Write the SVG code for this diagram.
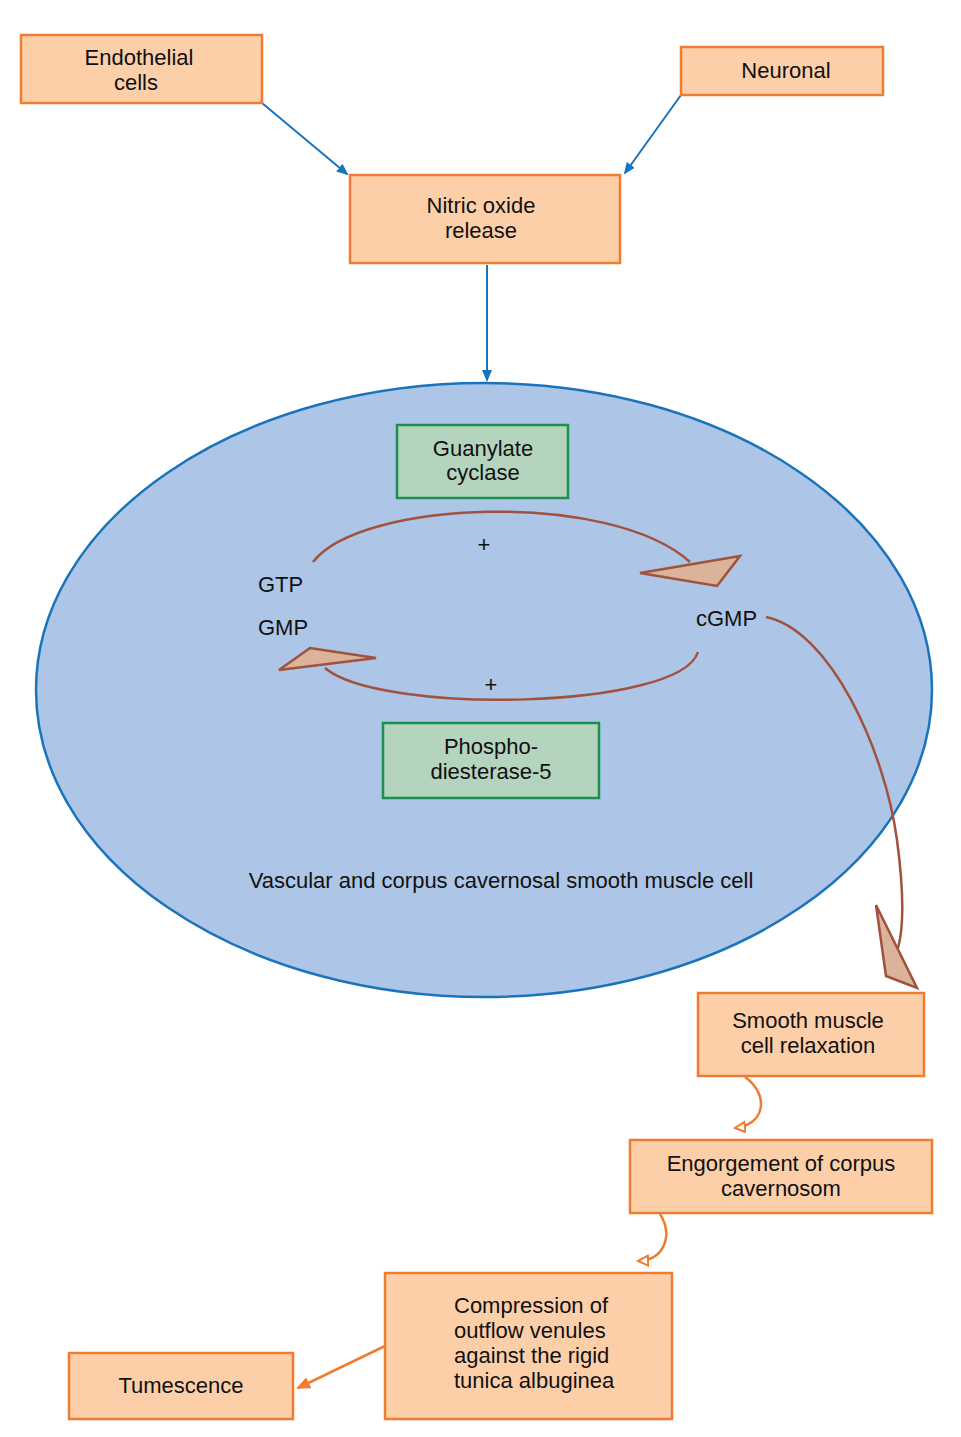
<svg xmlns="http://www.w3.org/2000/svg" width="961" height="1437" viewBox="0 0 961 1437">
<style>
.box{fill:#fccfa9;stroke:#ef7d31;stroke-width:2.5}
.gbox{fill:#b5d4bd;stroke:#1a9050;stroke-width:2.5}
.t{font-family:"Liberation Sans",Arial,sans-serif;font-size:22px;fill:#111;text-anchor:middle}
.tl{font-family:"Liberation Sans",Arial,sans-serif;font-size:22px;fill:#111}
.blue{stroke:#1a74bb;stroke-width:2;fill:none}
.brown{stroke:#a0523d;stroke-width:2.5;fill:none}
.bhead{fill:#dbb39b;stroke:#a0523d;stroke-width:2.5;stroke-linejoin:miter}
.orange{stroke:#ef7d31;stroke-width:2.5;fill:none}
</style>
<defs>
<marker id="ab" markerWidth="12" markerHeight="10" refX="10" refY="5" orient="auto" markerUnits="userSpaceOnUse">
<path d="M0,0 L12,5 L0,10 Z" fill="#1a74bb"/>
</marker>
<marker id="ao" markerWidth="14" markerHeight="12" refX="12" refY="6" orient="auto" markerUnits="userSpaceOnUse">
<path d="M0,0 L14,6 L0,12 Z" fill="#ef7d31"/>
</marker>
<marker id="aopen" markerWidth="14" markerHeight="14" refX="11" refY="6" orient="auto" markerUnits="userSpaceOnUse">
<path d="M1,1 L11,6 L1,11 Z" fill="#fff" stroke="#ef7d31" stroke-width="2"/>
</marker>
</defs>
<rect width="961" height="1437" fill="#fff"/>

<g id="cell">
<ellipse cx="484" cy="690" rx="448" ry="307" fill="#adc5e6" stroke="#1a74bb" stroke-width="2.5"/>
<text class="t" x="501" y="888">Vascular and corpus cavernosal smooth muscle cell</text>
</g>

<g id="connectors">
<line class="blue" x1="262" y1="103" x2="347" y2="174" marker-end="url(#ab)"/>
<line class="blue" x1="681" y1="95" x2="625" y2="173" marker-end="url(#ab)"/>
<line class="blue" x1="487" y1="265" x2="487" y2="380" marker-end="url(#ab)"/>
<path class="brown" d="M313,562 C360,500 610,490 690,562"/>
<polygon class="bhead" points="640,573 740,556 717,586"/>
<path class="brown" d="M698,652 C680,710 380,715 325,668"/>
<polygon class="bhead" points="279,670 310,648 376,658"/>
<path class="brown" d="M766,617 C830,630 885,750 897,840 C905,900 903,930 898,948"/>
<polygon class="bhead" points="876,905 917,988 886,976"/>
<path class="orange" d="M745,1077 C770,1095 765,1125 735,1128" marker-end="url(#aopen)"/>
<path class="orange" d="M660,1214 C673,1235 665,1260 638,1261" marker-end="url(#aopen)"/>
<line class="orange" x1="385" y1="1346" x2="298" y2="1388" marker-end="url(#ao)"/>
</g>

<g id="endothelial">
<rect class="box" x="21" y="35" width="241" height="68"/>
<text class="t" x="139" y="65">Endothelial</text>
<text class="t" x="136" y="90">cells</text>
</g>
<g id="neuronal">
<rect class="box" x="681" y="47" width="202" height="48"/>
<text class="t" x="786" y="78">Neuronal</text>
</g>
<g id="nitric">
<rect class="box" x="350" y="175" width="270" height="88"/>
<text class="t" x="481" y="213">Nitric oxide</text>
<text class="t" x="481" y="238">release</text>
</g>
<g id="guanylate">
<rect class="gbox" x="397" y="425" width="171" height="73"/>
<text class="t" x="483" y="456">Guanylate</text>
<text class="t" x="483" y="480">cyclase</text>
</g>
<g id="pde5">
<rect class="gbox" x="383" y="723" width="216" height="75"/>
<text class="t" x="491" y="754">Phospho-</text>
<text class="t" x="491" y="779">diesterase-5</text>
</g>
<g id="labels">
<text class="t" x="484" y="552">+</text>
<text class="t" x="491" y="692">+</text>
<text class="tl" x="258" y="592">GTP</text>
<text class="tl" x="258" y="635">GMP</text>
<text class="tl" x="696" y="626">cGMP</text>
</g>
<g id="relaxation">
<rect class="box" x="698" y="993" width="226" height="83"/>
<text class="t" x="808" y="1028">Smooth muscle</text>
<text class="t" x="808" y="1053">cell relaxation</text>
</g>
<g id="engorgement">
<rect class="box" x="630" y="1140" width="302" height="73"/>
<text class="t" x="781" y="1171">Engorgement of corpus</text>
<text class="t" x="781" y="1196">cavernosom</text>
</g>
<g id="compression">
<rect class="box" x="385" y="1273" width="287" height="146"/>
<text class="tl" x="454" y="1313">Compression of</text>
<text class="tl" x="454" y="1338">outflow venules</text>
<text class="tl" x="454" y="1363">against the rigid</text>
<text class="tl" x="454" y="1388">tunica albuginea</text>
</g>
<g id="tumescence">
<rect class="box" x="69" y="1353" width="224" height="66"/>
<text class="t" x="181" y="1393">Tumescence</text>
</g>
</svg>
